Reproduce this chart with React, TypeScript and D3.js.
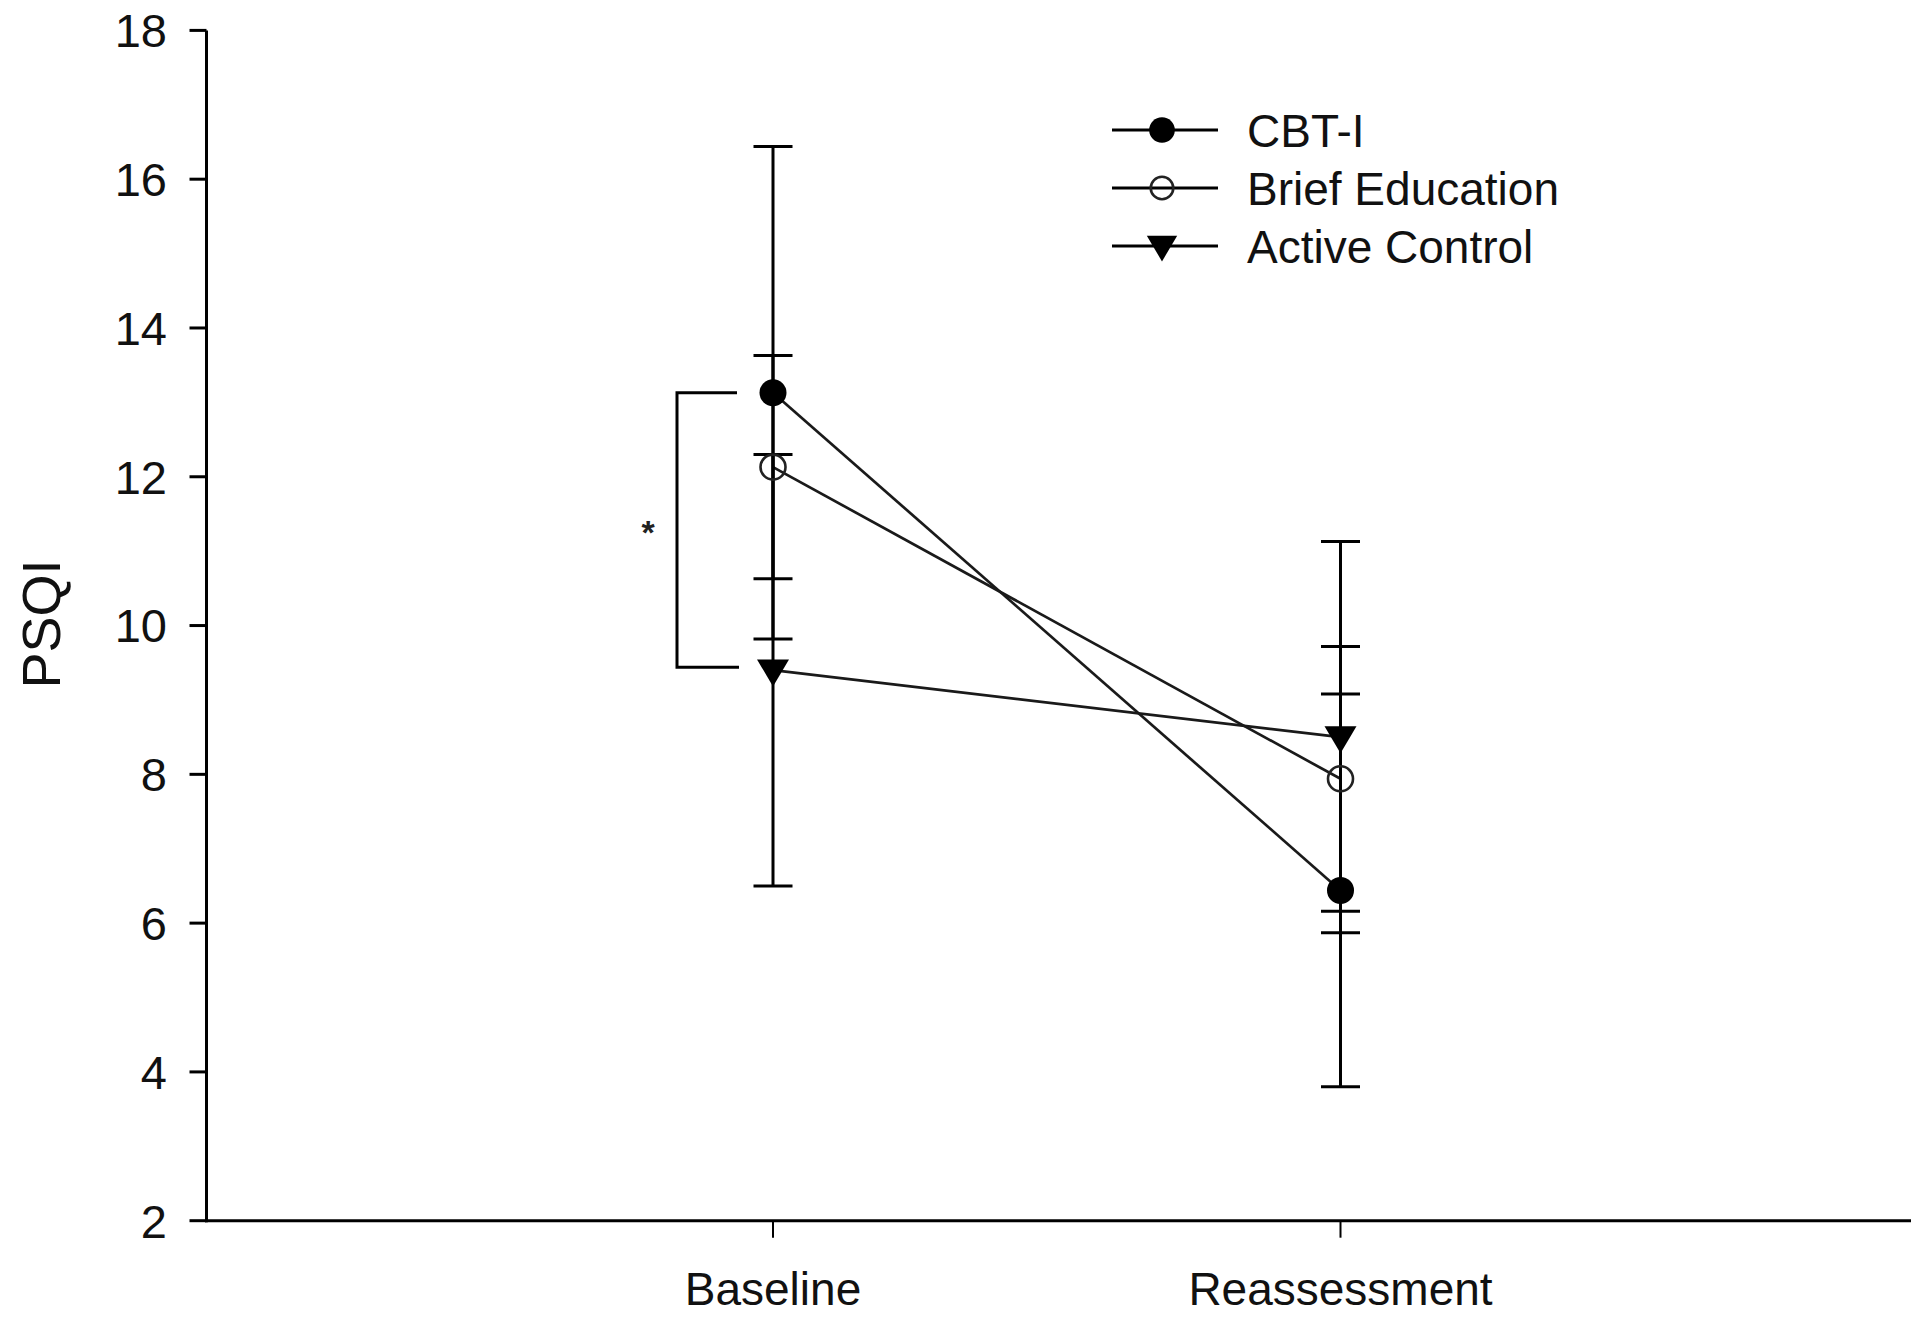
import React from "react";
import * as d3 from "d3";

const timepoints = ["Baseline", "Reassessment"];
const seriesNames = ["CBT-I", "Brief Education", "Active Control"];
const cbtMean = [13.13, 6.44];
const cbtSd = [3.31, 2.64];
const briefMean = [12.13, 7.94];
const briefSd = [1.5, 1.78];
const activeMean = [9.4, 8.5];
const activeSd = [2.9, 2.63];
const yTicks = [2, 4, 6, 8, 10, 12, 14, 16, 18];
const sigLabel = "*";
const yLabel = "PSQI";

const W = 1920;
const H = 1323;
const FONT = "'Liberation Sans', Arial, sans-serif";

export default function App() {
  const y = d3.scaleLinear().domain([2, 18]).range([1220.7, 30.4]);
  const x = d3.scalePoint().domain(timepoints).range([773, 1340.5]);
  const axisLeft = 206.5;
  const axisRight = 1911;

  const series = [
    { name: seriesNames[0], mean: cbtMean, sd: cbtSd, shape: "filled" },
    { name: seriesNames[1], mean: briefMean, sd: briefSd, shape: "open" },
    { name: seriesNames[2], mean: activeMean, sd: activeSd, shape: "tri" },
  ];

  const line = d3
    .line<number>()
    .x((_, i) => x(timepoints[i]) as number)
    .y((d) => y(d));

  const marker = (shape: string, cx: number, cy: number, s = 1, key?: string) => {
    if (shape === "filled")
      return <circle key={key} cx={cx} cy={cy} r={13.5 * s} fill="#000" />;
    if (shape === "open")
      return (
        <circle key={key} cx={cx} cy={cy} r={12.5 * s} fill="none" stroke="#222" strokeWidth={2.6} />
      );
    const w = 16 * s;
    const h = 27 * s;
    const top = cy - h * 0.4;
    return (
      <path
        key={key}
        d={`M${cx - w},${top} L${cx + w},${top} L${cx},${top + h} Z`}
        fill="#000"
      />
    );
  };

  const capHalf = 19.5;
  const legendY = [130, 188, 246];

  return (
    <svg
      width={W}
      height={H}
      style={{ position: "absolute", left: 0, top: 0, background: "#fff" }}
      fontFamily={FONT}
    >
      <rect width={W} height={H} fill="#fff" />
      {/* axes */}
      <line x1={axisLeft} x2={axisLeft} y1={y(18)} y2={y(2) + 1.5} stroke="#000" strokeWidth={3} />
      <line x1={axisLeft - 1.5} x2={axisRight} y1={y(2)} y2={y(2)} stroke="#000" strokeWidth={3} />
      {yTicks.map((t) => (
        <g key={t}>
          <line x1={axisLeft - 17} x2={axisLeft} y1={y(t)} y2={y(t)} stroke="#000" strokeWidth={3} />
          <text
            x={167}
            y={y(t)}
            dy="0.36em"
            textAnchor="end"
            fontSize={47}
            fill="#111"
          >
            {t}
          </text>
        </g>
      ))}
      {timepoints.map((tp) => (
        <g key={tp}>
          <line x1={x(tp)} x2={x(tp)} y1={y(2)} y2={y(2) + 17} stroke="#000" strokeWidth={2} />
          <text x={x(tp)} y={1305} textAnchor="middle" fontSize={46} fill="#111">
            {tp}
          </text>
        </g>
      ))}
      <text
        transform={`translate(60,624) rotate(-90)`}
        textAnchor="middle"
        fontSize={54}
        fill="#111"
      >
        {yLabel}
      </text>

      {/* connecting lines */}
      {series.map((s) => (
        <path key={s.name} d={line(s.mean) || ""} fill="none" stroke="#1a1a1a" strokeWidth={2.7} />
      ))}

      {/* error bars */}
      {series.map((s) =>
        s.mean.map((m, i) => {
          const cx = x(timepoints[i]) as number;
          const hi = y(m + s.sd[i]);
          const lo = y(m - s.sd[i]);
          return (
            <g key={s.name + i}>
              <line x1={cx} x2={cx} y1={hi} y2={lo} stroke="#000" strokeWidth={3} />
              <line x1={cx - capHalf} x2={cx + capHalf} y1={hi} y2={hi} stroke="#000" strokeWidth={3} />
              <line x1={cx - capHalf} x2={cx + capHalf} y1={lo} y2={lo} stroke="#000" strokeWidth={3} />
            </g>
          );
        })
      )}

      {/* markers */}
      {series.map((s) =>
        s.mean.map((m, i) => marker(s.shape, x(timepoints[i]) as number, y(m), 1, s.name + "m" + i))
      )}

      {/* significance bracket */}
      <path
        d={`M737,${y(cbtMean[0])} L677,${y(cbtMean[0])} L677,${y(activeMean[0]) - 3} L739,${y(activeMean[0]) - 3}`}
        fill="none"
        stroke="#000"
        strokeWidth={3}
      />
      <text x={648} y={544} textAnchor="middle" fontSize={34} fontWeight="bold" fill="#222">
        {sigLabel}
      </text>

      {/* legend */}
      {series.map((s, i) => (
        <g key={"lg" + s.name}>
          <line x1={1112} x2={1218} y1={legendY[i]} y2={legendY[i]} stroke="#000" strokeWidth={3} />
          {marker(s.shape, 1162, legendY[i], s.shape === "open" ? 0.9 : 0.95)}
          <text x={1247} y={legendY[i]} dy="0.36em" fontSize={46} fill="#111">
            {s.name}
          </text>
        </g>
      ))}
    </svg>
  );
}
